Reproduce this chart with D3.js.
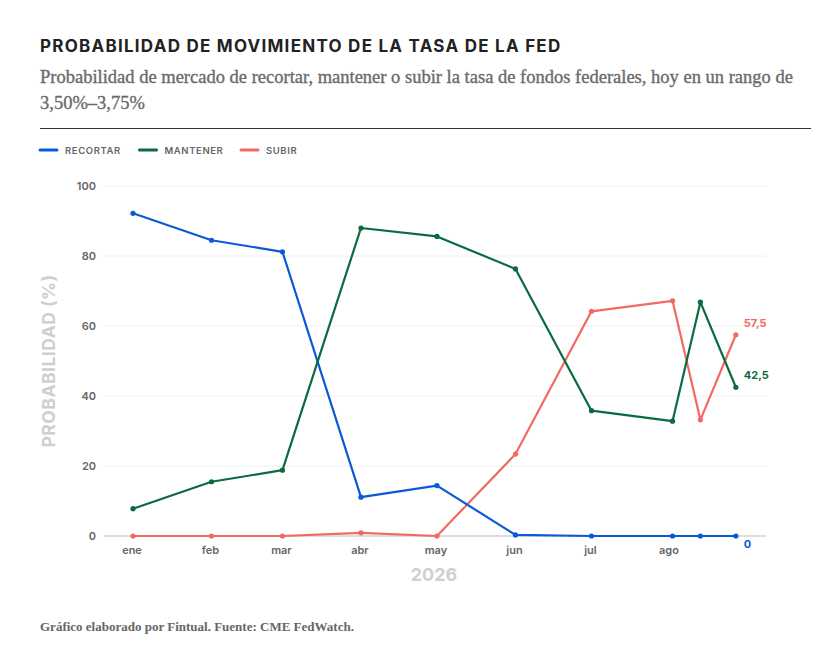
<!DOCTYPE html>
<html><head><meta charset="utf-8">
<script src="https://cdn.jsdelivr.net/npm/d3@7"></script>
<style>
body{margin:0;background:#fff;}
svg{display:block;}
</style></head>
<body>
<svg id="c" width="831" height="653"></svg>
<script>
const dates = ["2026-01-01","2026-02-01","2026-03-01","2026-04-01","2026-05-01","2026-06-01","2026-07-01","2026-08-02","2026-08-13","2026-08-27"];
const recortar = [92.2, 84.5, 81.2, 11.1, 14.4, 0.3, 0, 0, 0, 0];
const mantener = [7.8, 15.5, 18.8, 88.0, 85.6, 76.3, 35.8, 32.8, 66.8, 42.5];
const subir    = [0, 0, 0, 0.9, 0, 23.4, 64.2, 67.2, 33.2, 57.5];
const tickDates = ["2026-01-01","2026-02-01","2026-03-01","2026-04-01","2026-05-01","2026-06-01","2026-07-01","2026-08-01"];
const tickLabels = ["ene","feb","mar","abr","may","jun","jul","ago"];
const yTicks = [0,20,40,60,80,100];
const seriesNames = ["RECORTAR","MANTENER","SUBIR"];
const endLabels = ["0","42,5","57,5"];

const colors = ["#0a5ad8","#0a6b3e","#f06a62"];
const series = [recortar, mantener, subir];
const parse = d3.utcParse("%Y-%m-%d");

const svg = d3.select("#c");
const sans = "Inter, 'Open Sans', sans-serif";
const serif = "'Liberation Serif', 'DejaVu Serif', serif";

// Title
svg.append("text").attr("x",40).attr("y",52).text("PROBABILIDAD DE MOVIMIENTO DE LA TASA DE LA FED")
  .attr("font-family",sans).attr("font-weight",700).attr("font-size",17).attr("letter-spacing",1.25).attr("fill","#222");
// Subtitle
const sub = svg.append("text").attr("font-family",serif).attr("font-weight",400).attr("font-size",18.5).attr("fill","#6a6a6a")
  .attr("stroke","#6a6a6a").attr("stroke-width",0.35);
sub.append("tspan").attr("x",40).attr("y",83).text("Probabilidad de mercado de recortar, mantener o subir la tasa de fondos federales, hoy en un rango de");
sub.append("tspan").attr("x",40).attr("y",109).text("3,50%–3,75%");
// Rule
svg.append("line").attr("x1",40).attr("x2",811).attr("y1",128.5).attr("y2",128.5).attr("stroke","#333").attr("stroke-width",1);

// Legend
const legX = [40,139.5,241];
seriesNames.forEach((n,i)=>{
  svg.append("line").attr("x1",legX[i]).attr("x2",legX[i]+17).attr("y1",150).attr("y2",150)
    .attr("stroke",colors[i]).attr("stroke-width",3).attr("stroke-linecap","round");
  svg.append("text").attr("x",legX[i]+25).attr("y",153.5).text(n)
    .attr("font-family",sans).attr("font-weight",600).attr("font-size",9.5).attr("letter-spacing",0.6).attr("fill","#666");
});

// Scales
const x = d3.scaleUtc().domain([parse("2026-01-01"), parse("2026-08-01")]).range([133, 670]);
const y = d3.scaleLinear().domain([0,100]).range([536,186]);

// Gridlines
svg.append("g").selectAll("line").data(yTicks.filter(d=>d>0)).join("line")
  .attr("x1",104).attr("x2",766).attr("y1",d=>y(d)).attr("y2",d=>y(d))
  .attr("stroke","#f0f0f0").attr("stroke-width",1);
svg.append("line").attr("x1",104).attr("x2",766).attr("y1",y(0)).attr("y2",y(0)).attr("stroke","#dddddd").attr("stroke-width",2);

// Y tick labels
svg.append("g").selectAll("text").data(yTicks).join("text")
  .attr("x",96).attr("y",d=>y(d)+4).attr("text-anchor","end").text(d=>d)
  .attr("font-family",sans).attr("font-weight",600).attr("font-size",11).attr("fill","#666");

// Y axis title
svg.append("text").attr("transform","translate(55,361) rotate(-90)").attr("text-anchor","middle")
  .text("PROBABILIDAD (%)").attr("font-family",sans).attr("font-weight",700).attr("font-size",17.5).attr("letter-spacing",0.5).attr("fill","#cfcfcf");

// X tick labels
svg.append("g").selectAll("text").data(tickDates).join("text")
  .attr("x",d=>x(parse(d))-1).attr("y",554).attr("text-anchor","middle").text((d,i)=>tickLabels[i])
  .attr("font-family",sans).attr("font-weight",600).attr("font-size",11).attr("fill","#666");
svg.append("text").attr("x",434).attr("y",581).attr("text-anchor","middle").text("2026")
  .attr("font-family",sans).attr("font-weight",700).attr("font-size",18).attr("fill","#cfcfcf");

// Lines
const line = d3.line().x((d,i)=>x(parse(dates[i]))).y(d=>y(d));
const order = [2,0,1];
order.forEach(i=>{
  const g = svg.append("g");
  g.append("path").datum(series[i]).attr("d",line).attr("fill","none")
    .attr("stroke",colors[i]).attr("stroke-width",2.2).attr("stroke-linejoin","round");
  g.selectAll("circle").data(series[i]).join("circle")
    .attr("cx",(d,j)=>x(parse(dates[j]))).attr("cy",d=>y(d)).attr("r",2.6).attr("fill",colors[i]);
});

// End labels
const lastDate = parse(dates[dates.length-1]);
const endOffsets = [12, -8, -8];
series.forEach((s,i)=>{
  svg.append("text").attr("x",x(lastDate)+8).attr("y",y(s[s.length-1])+endOffsets[i]).text(endLabels[i])
    .attr("font-family",sans).attr("font-weight",700).attr("font-size",11).attr("fill",colors[i]);
});

// Footer
svg.append("text").attr("x",40).attr("y",631).text("Gráfico elaborado por Fintual. Fuente: CME FedWatch.")
  .attr("font-family",serif).attr("font-weight",700).attr("font-size",13).attr("fill","#666");
</script>
</body></html>
